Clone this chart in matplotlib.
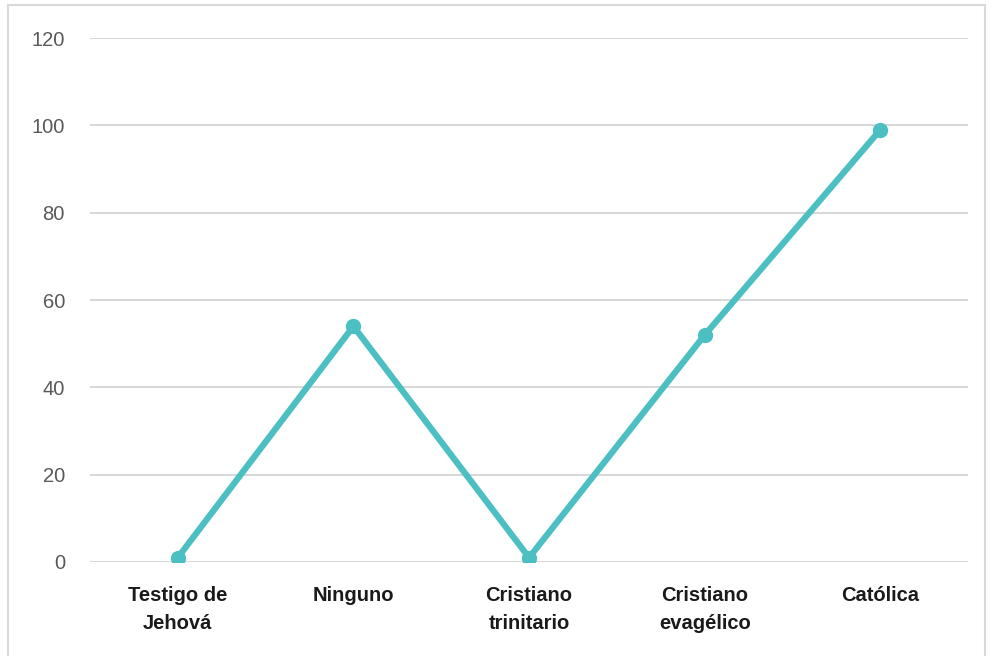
import matplotlib.pyplot as plt
from matplotlib.patches import Rectangle

### Data
categories = ['Testigo de\nJehová', 'Ninguno', 'Cristiano\ntrinitario', 'Cristiano\nevagélico', 'Católica']
values = [1, 54, 1, 52, 99]
yticks = [0, 20, 40, 60, 80, 100, 120]

### Plot
plt.rcParams['font.family'] = ['Liberation Sans', 'DejaVu Sans']

fig = plt.figure(figsize=(9.92, 6.56), dpi=100)
ax = fig.add_axes([0.0907, 0.1433, 0.8853, 0.7987])

# outer chart frame
fig.patches.append(Rectangle((8 / 992, -0.01), 977 / 992, 1 - 5 / 656 + 0.01,
                             transform=fig.transFigure, fill=False,
                             edgecolor='#d9d9d9', linewidth=1.5))

x = list(range(len(categories)))
ax.plot(x, values, color='#4bbfc1', linewidth=4.5, marker='o', markersize=10,
        solid_capstyle='round', zorder=3)

ax.set_xlim(-0.5, len(categories) - 0.5)
ax.set_ylim(0, 120)
ax.set_yticks(yticks)
ax.set_xticks(x)
ax.set_xticklabels(categories, fontweight='bold', fontsize=14.5, color='#1a1a1a',
                   linespacing=1.6)
ax.tick_params(axis='y', length=0, labelsize=14.5, labelcolor='#595959', pad=18)
ax.tick_params(axis='x', length=0, pad=17)
ax.grid(axis='y', color='#d4d4d4', linewidth=1.3)
ax.set_axisbelow(True)
for s in ax.spines.values():
    s.set_visible(False)

plt.savefig('out.png', dpi=100)
